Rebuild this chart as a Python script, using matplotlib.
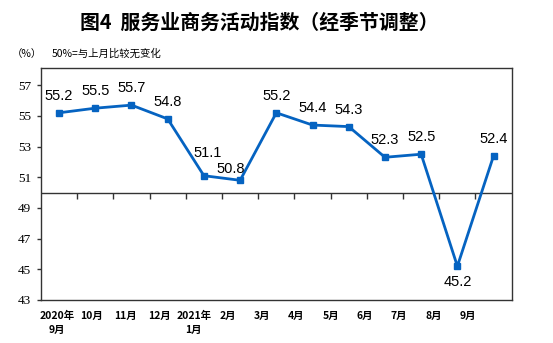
import matplotlib.pyplot as plt

plt.rcParams['font.family'] = ['Noto Sans CJK SC', 'DejaVu Sans']

months = ['2020年\n9月', '10月', '11月', '12月', '2021年\n1月', '2月', '3月',
          '4月', '5月', '6月', '7月', '8月', '9月']
index_values = [55.2, 55.5, 55.7, 54.8, 51.1, 50.8, 55.2, 54.4, 54.3, 52.3, 52.5, 45.2, 52.4]
yticks = [43, 45, 47, 49, 51, 53, 55, 57]

fig = plt.figure(figsize=(5.53, 3.43), dpi=100)
ax = fig.add_axes([0.0741, 0.1254, 0.8512, 0.6755])

x = list(range(len(index_values)))
blue = '#0563C1'
ax.plot(x, index_values, color=blue, lw=2, marker='s', ms=5, zorder=3)

# 数据标签位置（磅）
offsets = {4: (3, 16.5), 5: (-7, 8), 11: (0, -11)}
for i, v in enumerate(index_values):
    dx, dy = offsets.get(i, (0, 12.2))
    ax.annotate(f'{v}', (i, v), xytext=(dx, dy), textcoords='offset points',
                ha='center', va='center', fontsize=10.5, family='Liberation Sans')

# 50 线及其上的刻度
ax.axhline(50, color='#333333', lw=1, zorder=2)
bounds = [i + 0.5 for i in range(len(index_values) - 1)]
ax.plot(bounds, [50] * len(bounds), ls='none', marker=3, ms=4,
        mec='#333333', mew=1, zorder=2)

ax.set_xlim(-0.5, len(index_values) - 0.5)
ax.set_ylim(43, 58.1)
ax.set_yticks(yticks)
ax.set_yticklabels([str(t) for t in yticks], family='Liberation Serif', fontsize=9.5)
ax.tick_params(axis='y', direction='out', length=3, width=1, color='#333333', pad=4)

# 月份标签
label_pos = [-0.06 + 0.945 * i for i in x]
ax.set_xticks(label_pos)
ax.set_xticklabels(months, fontsize=7.5, fontweight='bold', linespacing=1.5)
ax.tick_params(axis='x', length=0, pad=8)

for s in ax.spines.values():
    s.set_color('#333333')
    s.set_linewidth(1)

fig.text(0.468, 0.935, '图4  服务业商务活动指数（经季节调整）', ha='center', va='center',
         fontsize=14.3, fontweight='bold')
fig.text(0.022, 0.843, '（%）', ha='left', va='center', fontsize=7.5)
fig.text(0.094, 0.843, '50%=与上月比较无变化', ha='left', va='center', fontsize=7.5)

fig.savefig('out.png', dpi=100)
